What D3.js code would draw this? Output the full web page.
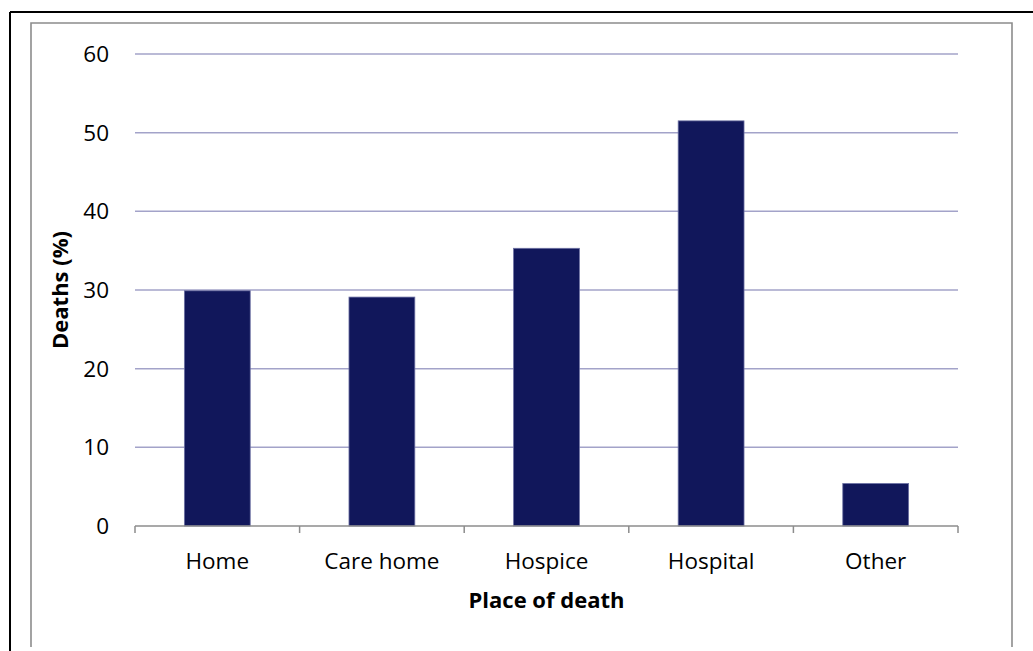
<!DOCTYPE html>
<html>
<head>
<meta charset="utf-8">
<script src="https://cdn.jsdelivr.net/npm/d3@7"></script>
<style>
  html, body { margin: 0; padding: 0; background: #fff; }
  svg { display: block; font-family: "Open Sans", "Noto Sans", sans-serif; }
</style>
</head>
<body>
<svg id="chart" width="1033" height="651"></svg>
<script>
// Share of deaths by place of death
const categories = ["Home", "Care home", "Hospice", "Hospital", "Other"];
const deathsPct = [29.9, 29.1, 35.3, 51.5, 5.4];
const yTicks = [0, 10, 20, 30, 40, 50, 60];

const svg = d3.select("#chart");

// Outer frame (black, top and left) and inner chart-area frame (grey)
svg.append("line").attr("x1", 10).attr("y1", 12).attr("x2", 1033).attr("y2", 12)
  .attr("stroke", "#000").attr("stroke-width", 2);
svg.append("line").attr("x1", 10).attr("y1", 12).attr("x2", 10).attr("y2", 651)
  .attr("stroke", "#000").attr("stroke-width", 2);
svg.append("path").attr("d", "M31,647 V23 H1012 V647")
  .attr("fill", "none").attr("stroke", "#8c8c8c").attr("stroke-width", 1.6);

const plot = { left: 135, right: 958, top: 54, bottom: 526 };

const x = d3.scaleBand()
  .domain(categories)
  .range([plot.left, plot.right])
  .paddingInner(0.6)
  .paddingOuter(0.3);

const y = d3.scaleLinear()
  .domain([0, 60])
  .range([plot.bottom, plot.top]);

// Horizontal gridlines
svg.append("g")
  .selectAll("line")
  .data(yTicks.filter(t => t > 0))
  .join("line")
  .attr("x1", plot.left).attr("x2", plot.right)
  .attr("y1", d => y(d)).attr("y2", d => y(d))
  .attr("stroke", "#a3a3c9").attr("stroke-width", 1.5);

// Bars
svg.append("g")
  .selectAll("rect")
  .data(categories.map((c, i) => ({ c, v: deathsPct[i] })))
  .join("rect")
  .attr("x", d => x(d.c))
  .attr("y", d => y(d.v))
  .attr("width", x.bandwidth())
  .attr("height", d => y(0) - y(d.v))
  .attr("fill", "#11175b")
  .attr("stroke", "#6c70a3")
  .attr("stroke-width", 0.8);

// X axis baseline with category-boundary ticks
const xAxis = svg.append("g");
xAxis.append("line")
  .attr("x1", plot.left).attr("x2", plot.right)
  .attr("y1", y(0)).attr("y2", y(0))
  .attr("stroke", "#8c8c8c").attr("stroke-width", 1.5);
const boundaries = d3.range(categories.length + 1).map(i => plot.left + i * (plot.right - plot.left) / categories.length);
xAxis.selectAll("line.tick")
  .data(boundaries)
  .join("line")
  .attr("class", "tick")
  .attr("x1", d => d).attr("x2", d => d)
  .attr("y1", y(0)).attr("y2", y(0) + 7)
  .attr("stroke", "#8c8c8c").attr("stroke-width", 1.5);

// Category labels
xAxis.selectAll("text")
  .data(categories)
  .join("text")
  .attr("x", d => x(d) + x.bandwidth() / 2)
  .attr("y", 569)
  .attr("text-anchor", "middle")
  .attr("font-size", 22.5)
  .attr("fill", "#000")
  .text(d => d);

// Y tick labels
svg.append("g")
  .selectAll("text")
  .data(yTicks)
  .join("text")
  .attr("x", 109)
  .attr("y", d => y(d))
  .attr("dy", "0.35em")
  .attr("text-anchor", "end")
  .attr("font-size", 22.5)
  .attr("fill", "#000")
  .text(d => d);

// Axis titles
svg.append("text")
  .attr("x", (plot.left + plot.right) / 2)
  .attr("y", 608)
  .attr("text-anchor", "middle")
  .attr("font-size", 22)
  .attr("font-weight", "bold")
  .text("Place of death");

svg.append("text")
  .attr("transform", `translate(68, ${(plot.top + plot.bottom) / 2}) rotate(-90)`)
  .attr("text-anchor", "middle")
  .attr("font-size", 22)
  .attr("font-weight", "bold")
  .text("Deaths (%)");
</script>
</body>
</html>
